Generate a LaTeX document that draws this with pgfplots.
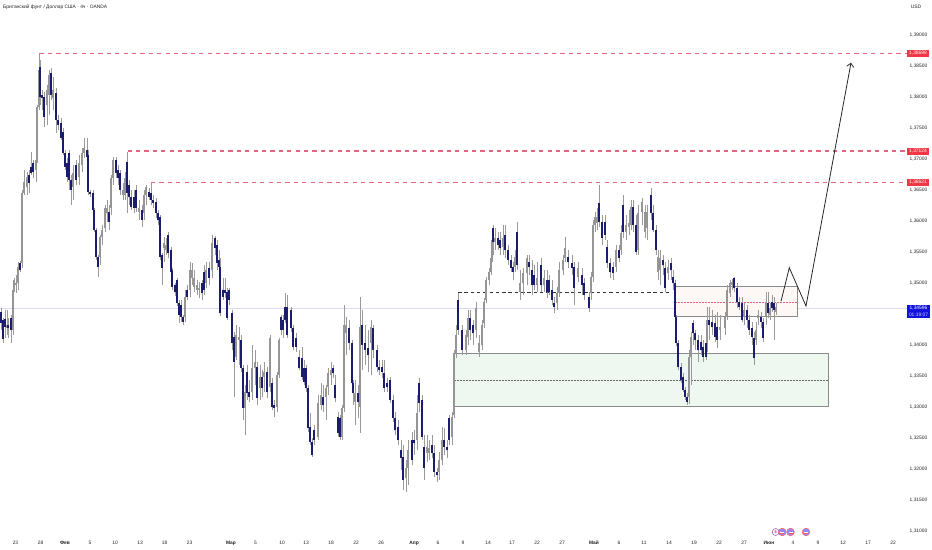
\documentclass[border=0pt]{standalone}
\usepackage{fontspec}
\setmainfont{Liberation Sans}
\usepackage{pgfplots}
\usepackage{pgfplotstable}
\pgfplotsset{compat=1.18}
\usetikzlibrary{arrows.meta}
\definecolor{navy}{HTML}{1C1C6E}
\definecolor{upbody}{HTML}{959595}
\definecolor{wick}{HTML}{9A9A9A}
\definecolor{lvl}{HTML}{E2647F}
\definecolor{lblred}{HTML}{F23645}
\definecolor{lblblue}{HTML}{1212E0}
\definecolor{nowline}{HTML}{DADAF4}
\definecolor{greenbox}{HTML}{EFF7F1}
\definecolor{pinkbox}{HTML}{FDF7F5}
\definecolor{boxedge}{HTML}{8A8A8A}
\definecolor{txt}{HTML}{222222}
% x (pixel position along the time scale), low, body bottom, body top, high
\pgfplotstableread{
x l b t h
1 1.3424 1.3435 1.3453 1.3459
3 1.3403 1.3409 1.3440 1.3443
5 1.3411 1.3429 1.3441 1.3456
8 1.3411 1.3427 1.3432 1.3443
11 1.3403 1.3424 1.3443 1.3448
20 1.3517 1.3520 1.3531 1.3535
29 1.3645 1.3661 1.3674 1.3682
31 1.3674 1.3677 1.3687 1.3711
33 1.3669 1.3679 1.3693 1.3698
40 1.3787 1.3800 1.3848 1.3859
42 1.3779 1.3798 1.3803 1.3811
44 1.3751 1.3767 1.3800 1.3808
51 1.3795 1.3803 1.3838 1.3846
56 1.3741 1.3762 1.3806 1.3814
58 1.3746 1.3754 1.3762 1.3770
61 1.3730 1.3733 1.3758 1.3766
63 1.3706 1.3709 1.3743 1.3750
65 1.3682 1.3687 1.3709 1.3714
67 1.3663 1.3671 1.3693 1.3701
69 1.3650 1.3666 1.3709 1.3714
71 1.3625 1.3650 1.3666 1.3674
76 1.3658 1.3666 1.3690 1.3698
87 1.3698 1.3703 1.3714 1.3733
88 1.3641 1.3646 1.3706 1.3714
90 1.3638 1.3643 1.3646 1.3650
93 1.3614 1.3617 1.3645 1.3650
94 1.3582 1.3585 1.3617 1.3620
96 1.3537 1.3541 1.3585 1.3588
98 1.3509 1.3525 1.3541 1.3545
109 1.3585 1.3598 1.3614 1.3625
116 1.3669 1.3677 1.3698 1.3703
118 1.3658 1.3669 1.3682 1.3690
120 1.3641 1.3650 1.3677 1.3682
127 1.3612 1.3645 1.3695 1.3711
129 1.3625 1.3638 1.3658 1.3666
131 1.3617 1.3622 1.3638 1.3650
134 1.3612 1.3620 1.3638 1.3650
136 1.3614 1.3620 1.3650 1.3658
142 1.3590 1.3601 1.3617 1.3625
149 1.3633 1.3638 1.3646 1.3653
151 1.3625 1.3633 1.3645 1.3661
153 1.3620 1.3629 1.3633 1.3641
156 1.3604 1.3612 1.3630 1.3637
158 1.3593 1.3601 1.3612 1.3617
160 1.3537 1.3541 1.3606 1.3609
162 1.3496 1.3524 1.3545 1.3548
168 1.3540 1.3548 1.3577 1.3582
171 1.3512 1.3517 1.3553 1.3558
172 1.3488 1.3493 1.3520 1.3524
175 1.3479 1.3485 1.3496 1.3500
177 1.3462 1.3467 1.3504 1.3508
179 1.3435 1.3448 1.3467 1.3472
181 1.3437 1.3445 1.3464 1.3472
183 1.3432 1.3437 1.3445 1.3448
187 1.3472 1.3477 1.3488 1.3496
202 1.3472 1.3483 1.3499 1.3504
204 1.3480 1.3488 1.3517 1.3528
209 1.3496 1.3508 1.3524 1.3533
215 1.3545 1.3556 1.3572 1.3575
217 1.3520 1.3532 1.3561 1.3569
219 1.3517 1.3525 1.3537 1.3553
220 1.3446 1.3451 1.3525 1.3540
223 1.3472 1.3477 1.3488 1.3508
225 1.3475 1.3483 1.3488 1.3508
227 1.3440 1.3443 1.3485 1.3491
229 1.3464 1.3472 1.3488 1.3491
232 1.3391 1.3403 1.3451 1.3456
234 1.3316 1.3372 1.3412 1.3420
241 1.3356 1.3362 1.3408 1.3416
243 1.3279 1.3298 1.3362 1.3367
247 1.3311 1.3322 1.3356 1.3367
249 1.3308 1.3316 1.3324 1.3343
257 1.3303 1.3314 1.3364 1.3372
262 1.3316 1.3330 1.3348 1.3359
267 1.3314 1.3324 1.3356 1.3364
272 1.3295 1.3300 1.3338 1.3346
274 1.3283 1.3298 1.3303 1.3311
281 1.3416 1.3424 1.3445 1.3448
283 1.3411 1.3424 1.3440 1.3448
285 1.3435 1.3440 1.3461 1.3483
287 1.3411 1.3416 1.3461 1.3480
291 1.3420 1.3427 1.3456 1.3461
293 1.3391 1.3396 1.3427 1.3432
296 1.3388 1.3396 1.3411 1.3419
299 1.3359 1.3362 1.3380 1.3391
302 1.3343 1.3348 1.3378 1.3396
304 1.3335 1.3340 1.3362 1.3375
306 1.3324 1.3330 1.3362 1.3367
308 1.3259 1.3265 1.3330 1.3335
310 1.3238 1.3243 1.3267 1.3290
312 1.3219 1.3222 1.3243 1.3249
314 1.3238 1.3246 1.3262 1.3270
323 1.3291 1.3303 1.3316 1.3335
333 1.3346 1.3354 1.3362 1.3367
335 1.3308 1.3314 1.3335 1.3351
338 1.3251 1.3257 1.3283 1.3291
340 1.3246 1.3251 1.3282 1.3287
349 1.3391 1.3403 1.3427 1.3440
352 1.3330 1.3338 1.3403 1.3408
353 1.3303 1.3322 1.3338 1.3343
358 1.3282 1.3308 1.3322 1.3335
362 1.3359 1.3400 1.3432 1.3456
365 1.3367 1.3391 1.3403 1.3432
368 1.3356 1.3383 1.3395 1.3424
373 1.3379 1.3391 1.3427 1.3432
377 1.3356 1.3364 1.3391 1.3400
379 1.3351 1.3359 1.3364 1.3375
382 1.3346 1.3356 1.3364 1.3375
384 1.3324 1.3330 1.3354 1.3375
387 1.3324 1.3332 1.3338 1.3346
390 1.3306 1.3311 1.3343 1.3348
393 1.3275 1.3282 1.3311 1.3319
395 1.3254 1.3262 1.3282 1.3291
398 1.3238 1.3246 1.3267 1.3279
401 1.3198 1.3217 1.3230 1.3246
403 1.3166 1.3182 1.3219 1.3238
412 1.3206 1.3214 1.3246 1.3259
414 1.3222 1.3241 1.3246 1.3262
419 1.3291 1.3306 1.3338 1.3346
422 1.3246 1.3251 1.3311 1.3319
424 1.3182 1.3201 1.3235 1.3254
432 1.3217 1.3225 1.3238 1.3254
434 1.3187 1.3195 1.3225 1.3238
437 1.3179 1.3190 1.3195 1.3201
444 1.3222 1.3235 1.3246 1.3265
447 1.3217 1.3230 1.3235 1.3246
449 1.3238 1.3246 1.3282 1.3287
458 1.3416 1.3424 1.3472 1.3483
462 1.3383 1.3391 1.3424 1.3432
470 1.3408 1.3424 1.3443 1.3456
473 1.3400 1.3419 1.3432 1.3440
493 1.3545 1.3566 1.3588 1.3593
498 1.3553 1.3561 1.3572 1.3582
500 1.3545 1.3556 1.3569 1.3582
505 1.3540 1.3553 1.3577 1.3593
508 1.3529 1.3537 1.3553 1.3561
511 1.3517 1.3524 1.3537 1.3545
513 1.3504 1.3517 1.3525 1.3533
517 1.3520 1.3528 1.3582 1.3598
529 1.3512 1.3525 1.3533 1.3545
532 1.3480 1.3496 1.3520 1.3537
534 1.3488 1.3496 1.3512 1.3528
541 1.3485 1.3496 1.3528 1.3540
547 1.3475 1.3485 1.3504 1.3520
549 1.3480 1.3485 1.3504 1.3512
552 1.3464 1.3472 1.3488 1.3504
554 1.3451 1.3461 1.3467 1.3477
568 1.3524 1.3533 1.3541 1.3553
572 1.3512 1.3524 1.3532 1.3545
574 1.3464 1.3491 1.3525 1.3533
582 1.3480 1.3496 1.3512 1.3524
584 1.3472 1.3480 1.3499 1.3508
589 1.3453 1.3459 1.3477 1.3485
599 1.3590 1.3598 1.3629 1.3658
602 1.3561 1.3572 1.3598 1.3609
605 1.3569 1.3577 1.3598 1.3609
607 1.3524 1.3532 1.3558 1.3569
610 1.3508 1.3517 1.3532 1.3540
613 1.3504 1.3516 1.3525 1.3533
619 1.3533 1.3540 1.3553 1.3561
623 1.3572 1.3582 1.3625 1.3641
633 1.3582 1.3593 1.3622 1.3633
636 1.3545 1.3550 1.3593 1.3609
651 1.3601 1.3612 1.3641 1.3653
653 1.3582 1.3585 1.3612 1.3625
656 1.3545 1.3553 1.3585 1.3593
663 1.3512 1.3528 1.3537 1.3545
665 1.3485 1.3491 1.3524 1.3533
671 1.3504 1.3520 1.3532 1.3540
673 1.3488 1.3499 1.3509 1.3520
675 1.3440 1.3445 1.3499 1.3504
676 1.3398 1.3403 1.3445 1.3448
678 1.3359 1.3364 1.3403 1.3408
681 1.3338 1.3343 1.3364 1.3370
683 1.3324 1.3327 1.3348 1.3354
685 1.3311 1.3316 1.3327 1.3332
687 1.3303 1.3308 1.3316 1.3322
693 1.3400 1.3419 1.3435 1.3440
695 1.3391 1.3408 1.3419 1.3424
698 1.3372 1.3391 1.3408 1.3416
701 1.3383 1.3391 1.3404 1.3416
703 1.3372 1.3380 1.3396 1.3408
706 1.3375 1.3380 1.3403 1.3416
709 1.3408 1.3432 1.3440 1.3461
712 1.3416 1.3429 1.3437 1.3456
715 1.3404 1.3412 1.3435 1.3448
717 1.3395 1.3408 1.3429 1.3453
734 1.3485 1.3491 1.3507 1.3509
737 1.3459 1.3469 1.3491 1.3499
739 1.3456 1.3461 1.3469 1.3477
742 1.3437 1.3440 1.3467 1.3477
747 1.3427 1.3440 1.3456 1.3464
749 1.3416 1.3424 1.3440 1.3448
752 1.3400 1.3412 1.3427 1.3437
754 1.3367 1.3378 1.3411 1.3420
761 1.3427 1.3437 1.3445 1.3453
763 1.3404 1.3411 1.3437 1.3443
768 1.3443 1.3451 1.3467 1.3485
772 1.3453 1.3459 1.3469 1.3480
774 1.3408 1.3456 1.3467 1.3477
}\downdata
\pgfplotstableread{
x l b t h
7 1.3416 1.3427 1.3432 1.3456
13 1.3416 1.3424 1.3488 1.3496
14 1.3485 1.3491 1.3504 1.3507
16 1.3483 1.3496 1.3499 1.3512
18 1.3488 1.3499 1.3525 1.3533
22 1.3524 1.3532 1.3645 1.3650
24 1.3641 1.3645 1.3662 1.3682
27 1.3641 1.3654 1.3670 1.3678
36 1.3662 1.3682 1.3698 1.3701
37 1.3693 1.3698 1.3783 1.3787
39 1.3779 1.3783 1.3843 1.3870
47 1.3754 1.3787 1.3811 1.3819
49 1.3771 1.3803 1.3835 1.3843
53 1.3779 1.3798 1.3811 1.3832
73 1.3633 1.3654 1.3677 1.3690
79 1.3658 1.3671 1.3693 1.3706
82 1.3678 1.3690 1.3709 1.3717
84 1.3701 1.3709 1.3717 1.3733
100 1.3529 1.3541 1.3574 1.3577
102 1.3561 1.3574 1.3585 1.3593
105 1.3582 1.3588 1.3620 1.3625
107 1.3598 1.3612 1.3620 1.3633
111 1.3609 1.3620 1.3669 1.3674
113 1.3658 1.3669 1.3698 1.3703
123 1.3633 1.3641 1.3650 1.3661
125 1.3633 1.3641 1.3669 1.3678
139 1.3601 1.3614 1.3620 1.3633
144 1.3601 1.3612 1.3641 1.3650
146 1.3625 1.3641 1.3654 1.3658
164 1.3533 1.3556 1.3564 1.3574
166 1.3545 1.3553 1.3561 1.3572
185 1.3437 1.3445 1.3477 1.3488
190 1.3477 1.3488 1.3520 1.3533
192 1.3496 1.3508 1.3520 1.3532
194 1.3485 1.3493 1.3508 1.3520
197 1.3480 1.3488 1.3496 1.3504
199 1.3475 1.3488 1.3491 1.3501
206 1.3491 1.3499 1.3520 1.3533
212 1.3508 1.3520 1.3564 1.3577
236 1.3375 1.3380 1.3416 1.3432
239 1.3367 1.3408 1.3412 1.3429
245 1.3254 1.3298 1.3324 1.3335
252 1.3311 1.3324 1.3362 1.3399
255 1.3335 1.3362 1.3372 1.3391
260 1.3311 1.3330 1.3348 1.3367
264 1.3324 1.3348 1.3356 1.3372
270 1.3324 1.3332 1.3411 1.3416
277 1.3291 1.3300 1.3351 1.3356
279 1.3346 1.3351 1.3408 1.3411
318 1.3246 1.3251 1.3306 1.3319
321 1.3295 1.3303 1.3319 1.3338
326 1.3279 1.3316 1.3330 1.3335
328 1.3319 1.3332 1.3354 1.3362
331 1.3335 1.3351 1.3359 1.3372
342 1.3246 1.3251 1.3298 1.3303
344 1.3291 1.3298 1.3432 1.3464
346 1.3383 1.3419 1.3432 1.3445
355 1.3270 1.3308 1.3322 1.3343
360 1.3258 1.3300 1.3429 1.3477
371 1.3351 1.3403 1.3429 1.3440
406 1.3162 1.3185 1.3201 1.3214
408 1.3174 1.3201 1.3230 1.3246
417 1.3230 1.3246 1.3290 1.3319
427 1.3211 1.3225 1.3235 1.3254
429 1.3214 1.3225 1.3233 1.3246
439 1.3182 1.3195 1.3214 1.3227
442 1.3206 1.3214 1.3246 1.3267
452 1.3238 1.3251 1.3283 1.3291
454 1.3282 1.3287 1.3387 1.3391
456 1.3378 1.3387 1.3416 1.3432
466 1.3383 1.3391 1.3416 1.3424
468 1.3400 1.3412 1.3443 1.3456
476 1.3411 1.3424 1.3459 1.3469
479 1.3380 1.3388 1.3403 1.3416
482 1.3391 1.3400 1.3432 1.3440
484 1.3427 1.3435 1.3469 1.3475
486 1.3467 1.3472 1.3504 1.3509
489 1.3496 1.3504 1.3517 1.3524
491 1.3512 1.3517 1.3540 1.3545
492 1.3533 1.3540 1.3569 1.3577
495 1.3553 1.3566 1.3572 1.3588
503 1.3545 1.3558 1.3572 1.3593
515 1.3517 1.3525 1.3541 1.3553
520 1.3472 1.3485 1.3499 1.3520
523 1.3480 1.3499 1.3516 1.3524
527 1.3496 1.3516 1.3540 1.3545
537 1.3485 1.3496 1.3508 1.3533
544 1.3485 1.3496 1.3508 1.3520
557 1.3456 1.3467 1.3483 1.3493
559 1.3477 1.3483 1.3520 1.3533
563 1.3512 1.3520 1.3537 1.3545
565 1.3533 1.3540 1.3556 1.3574
578 1.3501 1.3509 1.3524 1.3533
591 1.3472 1.3483 1.3509 1.3517
593 1.3501 1.3509 1.3593 1.3601
595 1.3582 1.3593 1.3606 1.3614
597 1.3585 1.3596 1.3606 1.3620
616 1.3517 1.3525 1.3553 1.3561
621 1.3545 1.3553 1.3580 1.3593
626 1.3569 1.3582 1.3593 1.3609
629 1.3577 1.3590 1.3596 1.3617
631 1.3585 1.3593 1.3622 1.3633
638 1.3545 1.3553 1.3612 1.3625
642 1.3593 1.3614 1.3630 1.3637
645 1.3572 1.3582 1.3614 1.3625
647 1.3569 1.3588 1.3614 1.3625
658 1.3504 1.3517 1.3541 1.3553
660 1.3496 1.3520 1.3540 1.3553
668 1.3504 1.3516 1.3525 1.3537
689 1.3304 1.3316 1.3380 1.3391
691 1.3335 1.3380 1.3412 1.3420
707 1.3388 1.3403 1.3440 1.3461
720 1.3408 1.3424 1.3429 1.3448
725 1.3416 1.3427 1.3445 1.3453
727 1.3440 1.3445 1.3488 1.3496
730 1.3477 1.3483 1.3499 1.3504
732 1.3488 1.3496 1.3501 1.3506
744 1.3432 1.3445 1.3456 1.3467
756 1.3400 1.3408 1.3424 1.3437
758 1.3432 1.3443 1.3448 1.3456
766 1.3432 1.3445 1.3469 1.3485
770 1.3440 1.3448 1.3459 1.3467
776 1.3448 1.3453 1.3461 1.3467
}\updata
\newcommand{\sm}{\fontsize{4.9}{5.6}\selectfont}
\begin{document}
\begin{tikzpicture}
\begin{axis}[
  scale only axis, width=932bp, height=550bp,
  xmin=0, xmax=932, ymin=1.30689, ymax=1.39560,
  axis line style={draw=none}, tick style={draw=none},
  xtick={15.5,40.5,65,90,115,140,164.5,189.5,231,255.5,282,306,331,356,381,414,438,463,488,512,537,562,594,619,644,669,694,719,744,769,793,818,843,868,893},
  xticklabels={23,28,\textbf{Фев},5,10,13,18,23,\textbf{Мар},5,10,13,18,22,26,\textbf{Апр},6,9,14,17,22,27,\textbf{Май},6,11,14,19,22,27,\textbf{Июн},4,9,12,17,22},
  ytick={1.31,1.315,1.32,1.325,1.33,1.335,1.34,1.345,1.35,1.355,1.36,1.365,1.37,1.375,1.38,1.385,1.39},
  yticklabels={{1,31000},{1,31500},{1,32000},{1,32500},{1,33000},{1,33500},{1,34000},{1,34500},{1,35000},{1,35500},{1,36000},{1,36500},{1,37000},{1,37500},{1,38000},{1,38500},{1,39000}},
  ytick pos=right, yticklabel pos=right, xtick pos=bottom,
  x tick label style={anchor=center, yshift=7bp, font=\sm, text=txt, inner sep=0pt},
  y tick label style={anchor=center, xshift=-13.5bp, font=\sm, text=txt, inner sep=0pt},
  candle/.style={draw=none, mark=none, forget plot, error bars/.cd, y dir=plus, y explicit, error mark=none, error bar style={solid, draw=#1}},
]
% thin line at the current price
\addplot[nowline, line width=0.6bp, forget plot] coordinates {(0,1.34592) (907,1.34592)};
% demand zone
\addplot[draw=boxedge, fill=greenbox, line width=1bp, forget plot] coordinates {(454,1.33865) (828,1.33865) (828,1.33) (454,1.33) (454,1.33865)};
\addplot[black!60, line width=0.3bp, dash pattern=on 1.5bp off 1.5bp, forget plot] coordinates {(454,1.33425) (828,1.33425)};
% supply zone
\addplot[draw=boxedge, fill=pinkbox, line width=0.7bp, forget plot] coordinates {(675,1.34942) (797.5,1.34942) (797.5,1.34452) (675,1.34452) (675,1.34942)};
\addplot[lvl, line width=0.25bp, dash pattern=on 1.5bp off 1.5bp, forget plot] coordinates {(675,1.34693) (797.5,1.34693)};
% broken level
\addplot[black!80, line width=0.9bp, dash pattern=on 3.5bp off 2.8bp, forget plot] coordinates {(458,1.3484) (671,1.3484)};
% resistance levels
\addplot[lvl, line width=1.05bp, dash pattern=on 4.2bp off 4.2bp, forget plot] coordinates {(39.5,1.38698) (907,1.38698)};
\addplot[lvl, line width=1.05bp, dash pattern=on 4.2bp off 4.2bp, forget plot] coordinates {(127.5,1.37124) (907,1.37124)};
\addplot[lvl, line width=1.05bp, dash pattern=on 4.2bp off 4.2bp, forget plot] coordinates {(151,1.36621) (907,1.36621)};
% candles: wicks
\addplot[candle=wick, error bar style={line width=0.55bp}]
  table[x=x, y=l, y error plus expr=\thisrow{h}-\thisrow{l}] {\updata};
\addplot[candle=wick, error bar style={line width=0.55bp}]
  table[x=x, y=l, y error plus expr=\thisrow{h}-\thisrow{l}] {\downdata};
% candles: bodies
\addplot[candle=upbody, error bar style={line width=1.4bp}]
  table[x=x, y=b, y error plus expr=\thisrow{t}-\thisrow{b}] {\updata};
\addplot[candle=navy, error bar style={line width=1.3bp}]
  table[x=x, y=b, y error plus expr=\thisrow{t}-\thisrow{b}] {\downdata};
% projected path
\addplot[black!85, line width=0.8bp, -{Straight Barb[length=3.5bp,width=7bp]}, forget plot] coordinates {(781,1.3470) (789.3,1.35242) (806,1.34624) (851,1.38548)};
% price labels
\node[fill=lblred, text=white, font=\sm, minimum width=22bp, minimum height=7bp, inner sep=0pt] at (axis cs:918,1.38698) {1,38698};
\node[fill=lblred, text=white, font=\sm, minimum width=22bp, minimum height=7bp, inner sep=0pt] at (axis cs:918,1.37124) {1,37124};
\node[fill=lblred, text=white, font=\sm, minimum width=22bp, minimum height=7bp, inner sep=0pt] at (axis cs:918,1.36621) {1,36621};
\node[fill=lblblue, minimum width=23bp, minimum height=13bp, inner sep=0pt] at (axis cs:918.5,1.34540) {};
\node[text=white, font=\sm, inner sep=0pt] at (axis cs:918.5,1.34592) {1,34596};
\node[text=white!80!lblblue, font=\sm, inner sep=0pt] at (axis cs:918.5,1.34490) {01:19:07};
% event icons
\node[circle, draw=violet!70, fill=white, line width=0.5bp, minimum size=7bp, inner sep=0pt, font=\fontsize{4}{4}\selectfont, text=violet] at (axis cs:775.7,1.30979) {\$};
\foreach \ex in {782.3,790.5,806} {
  \edef\temp{\noexpand\node[circle, draw=red!60, fill=blue!45!white, line width=0.7bp, minimum size=7.5bp, inner sep=0pt] at (axis cs:\ex,1.30979) {};
  \noexpand\draw[white, line width=0.7bp] (axis cs:\ex-2,1.30972) -- (axis cs:\ex+2,1.30972);
  \noexpand\draw[red!65, line width=0.7bp] (axis cs:\ex-2,1.30955) -- (axis cs:\ex+2,1.30955);}
  \temp
}
% headings
\node[anchor=west, font=\sm, text=black!85, inner sep=0pt] at (axis cs:3,1.39447) {Британский фунт / Доллар США · 4ч · OANDA};
\node[font=\sm, text=txt, inner sep=0pt] at (axis cs:916,1.39447) {USD};
\end{axis}
\end{tikzpicture}
\end{document}
